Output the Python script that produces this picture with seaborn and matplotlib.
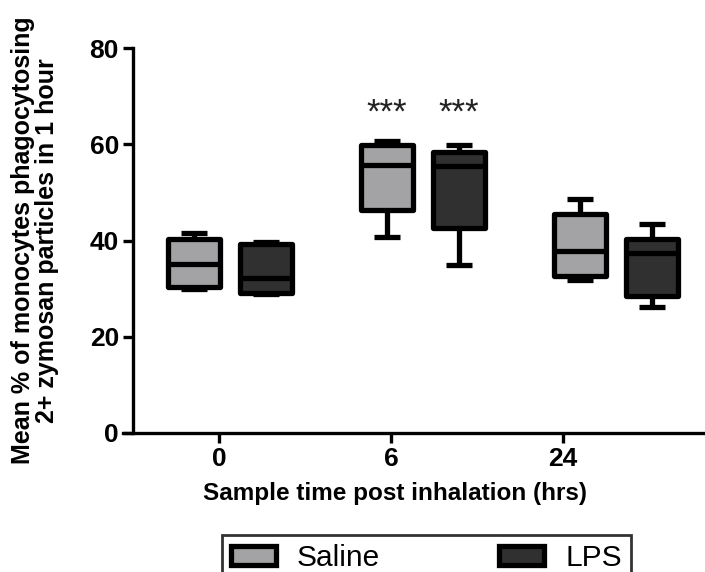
import matplotlib
matplotlib.use("Agg")
import matplotlib.pyplot as plt
import seaborn as sns
import pandas as pd

# ---- data (5-number summaries: min, Q1, median, Q3, max)
times = ["0", "6", "24"]
groups = ["Saline", "LPS"]
saline_0 = [30.0, 30.3, 35.2, 40.3, 41.5]
lps_0 = [28.8, 29.0, 32.3, 39.2, 39.6]
saline_6 = [40.7, 46.3, 55.7, 59.8, 60.6]
lps_6 = [35.0, 42.6, 55.5, 58.3, 59.8]
saline_24 = [31.8, 32.6, 37.8, 45.5, 48.7]
lps_24 = [26.2, 28.5, 37.3, 40.3, 43.5]
yticks = [0, 20, 40, 60, 80]
annotations = {"6": ["***", "***"]}

series = {
    ("0", "Saline"): saline_0, ("0", "LPS"): lps_0,
    ("6", "Saline"): saline_6, ("6", "LPS"): lps_6,
    ("24", "Saline"): saline_24, ("24", "LPS"): lps_24,
}
rows = []
for (t, g), vals in series.items():
    for v in vals:
        rows.append({"time": t, "group": g, "value": v})
df = pd.DataFrame(rows)

sns.set_style("ticks")
plt.rcParams["font.family"] = ["Liberation Sans", "DejaVu Sans"]
plt.rcParams["text.color"] = "black"
plt.rcParams["axes.labelcolor"] = "black"

fig = plt.figure(figsize=(7.05, 5.72), dpi=100)
ax = fig.add_axes([123 / 705, 1 - 433 / 572, 1 - 123 / 705, (433 - 48) / 572])

WIDTH = 0.75
sns.boxplot(data=df, x="time", y="value", hue="group", order=times,
            hue_order=groups, palette={"Saline": "#a3a3a6", "LPS": "#303030"},
            whis=(0, 100), width=WIDTH, gap=0.28, linewidth=3.8,
            linecolor="black", fliersize=0, ax=ax, saturation=1)

for p in ax.patches:
    p.set_joinstyle("round")
for ln in ax.lines:
    ln.set_solid_capstyle("butt")

handles = ax.legend_.legend_handles
labels = [t.get_text() for t in ax.legend_.get_texts()]
ax.legend_.remove()
for h in handles:
    h.set_linewidth(3.8)
    h.set_edgecolor("black")
    h.set_joinstyle("round")

# annotations
for ti, t in enumerate(times):
    if t in annotations:
        for gi, txt in enumerate(annotations[t]):
            off = (-WIDTH / 4) if gi == 0 else (WIDTH / 4)
            ax.text(ti + off, 66.5, txt, ha="center", va="center",
                    fontsize=25, color="#222222")

ax.set_ylim(0, 80)
ax.set_yticks(yticks)
ax.set_xlim(-0.554, 2.461)
ax.spines["left"].set_position(("data", -0.503))
ax.spines["right"].set_visible(False)
ax.spines["top"].set_visible(False)
for s in ["left", "bottom"]:
    ax.spines[s].set_linewidth(2.4)
    ax.spines[s].set_color("black")
ax.set_xticks([-0.057, 0.834, 1.725], times)
ax.tick_params(axis="both", length=7, width=2.4, labelsize=19, pad=3,
               color="black", labelcolor="black")
for lab in ax.get_xticklabels() + ax.get_yticklabels():
    lab.set_fontweight("bold")

ax.set_xlabel("Sample time post inhalation (hrs)", fontsize=17.5,
              fontweight="bold", labelpad=8, color="black")
ax.xaxis.label.set_x(0.467)
ax.set_ylabel("Mean % of monocytes phagocytosing\n2+ zymosan particles in 1 hour",
              fontsize=18, fontweight="bold", linespacing=1.0, color="black")
ax.yaxis.set_label_coords(-0.11, 0.5)

leg = fig.legend(handles, labels, loc="upper left",
                 bbox_to_anchor=(222 / 705, 1 - 535 / 572), ncol=2,
                 fontsize=21.5, frameon=True, fancybox=False, borderaxespad=0,
                 handlelength=1.5, handleheight=0.65, handletextpad=0.7,
                 columnspacing=4.0, borderpad=0.3)
leg.get_frame().set_edgecolor("black")
leg.get_frame().set_linewidth(2.0)

fig.savefig("out.png", dpi=100)
